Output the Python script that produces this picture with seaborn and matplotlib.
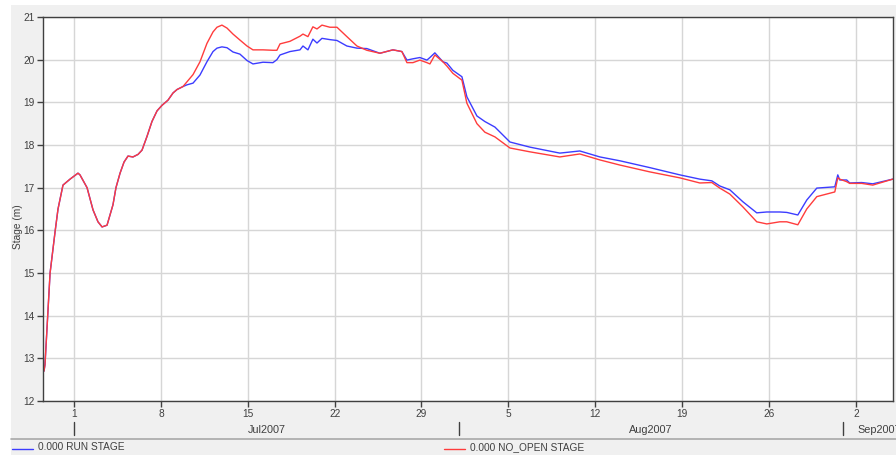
import pandas as pd
import matplotlib
matplotlib.use("Agg")
import matplotlib.pyplot as plt
import matplotlib.dates as mdates
from matplotlib.lines import Line2D
from matplotlib.patches import Rectangle
import seaborn as sns

# ------------------------------------------------------------
# data (days counted from 2007-07-01 00:00, stage in metres)
# ------------------------------------------------------------
start = pd.Timestamp("2007-07-01")

# first part: both runs give the same stage
shared_days = [-2.42, -2.34, -1.93, -1.53, -1.29, -0.89, -0.32, 0.32, 0.48, 1.05,
               1.53, 1.93, 2.26, 2.66, 3.14, 3.38, 3.71, 4.03, 4.35, 4.75,
               5.16, 5.48, 5.88, 6.28, 6.69, 7.09, 7.57, 7.98, 8.30, 8.78]
shared_stage = [12.70, 12.85, 15.00, 15.96, 16.50, 17.06, 17.20, 17.34, 17.30, 17.00,
                16.48, 16.20, 16.08, 16.12, 16.60, 17.00, 17.34, 17.60, 17.74, 17.72,
                17.78, 17.88, 18.20, 18.55, 18.80, 18.93, 19.05, 19.22, 19.30, 19.37]

# after that the two runs split
split_days = [9.10, 9.59, 10.15, 10.71, 11.20, 11.52, 11.92, 12.33, 12.81, 13.37,
              13.94, 14.42, 15.23, 16.03, 16.35, 16.60, 17.40, 18.21, 18.45, 18.85,
              19.25, 19.58, 19.98, 20.62, 21.19, 21.99, 22.80, 23.60, 24.65, 25.70,
              26.42, 26.83, 27.31, 27.87, 28.44, 28.68, 29.08, 29.73, 30.05, 30.53,
              31.26, 31.66, 32.47, 33.11, 33.92, 35.13, 36.74, 39.15, 40.76, 42.38,
              43.99, 46.40, 48.82, 50.43, 51.40, 52.04, 52.85, 53.90, 55.02, 55.83,
              56.88, 57.44, 58.33, 59.05, 59.86, 61.31, 61.55, 61.71, 62.27, 62.51,
              63.48, 64.37, 65.98]
run_split = [19.41, 19.45, 19.64, 19.95, 20.19, 20.27, 20.30, 20.28, 20.18, 20.13,
             19.98, 19.90, 19.94, 19.93, 20.00, 20.11, 20.19, 20.23, 20.32, 20.23,
             20.48, 20.39, 20.50, 20.47, 20.45, 20.32, 20.27, 20.26, 20.15, 20.23,
             20.19, 19.99, 20.02, 20.05, 19.99, 20.05, 20.16, 19.95, 19.92, 19.75,
             19.60, 19.13, 18.68, 18.55, 18.42, 18.07, 17.95, 17.81, 17.86, 17.72,
             17.63, 17.47, 17.30, 17.20, 17.16, 17.04, 16.95, 16.67, 16.41, 16.43,
             16.43, 16.42, 16.36, 16.71, 16.99, 17.02, 17.30, 17.18, 17.18, 17.11,
             17.12, 17.09, 17.20]
no_open_split = [19.48, 19.65, 19.95, 20.38, 20.65, 20.76, 20.81, 20.74, 20.60, 20.46,
                 20.32, 20.23, 20.23, 20.22, 20.22, 20.37, 20.43, 20.55, 20.60, 20.54,
                 20.77, 20.72, 20.81, 20.76, 20.76, 20.54, 20.32, 20.22, 20.15, 20.23,
                 20.19, 19.93, 19.93, 19.99, 19.93, 19.90, 20.11, 19.95, 19.85, 19.68,
                 19.52, 18.98, 18.50, 18.30, 18.19, 17.93, 17.84, 17.72, 17.79, 17.65,
                 17.53, 17.37, 17.23, 17.11, 17.12, 16.99, 16.85, 16.55, 16.20, 16.15,
                 16.20, 16.20, 16.13, 16.50, 16.79, 16.90, 17.23, 17.20, 17.14, 17.10,
                 17.10, 17.06, 17.20]

series_names = ["0.000 RUN STAGE", "0.000 NO_OPEN STAGE"]
series_colors = ["#3c3cff", "#ff3c3c"]
months = ["Jul2007", "Aug2007", "Sep2007"]

days = shared_days + split_days
time = start + pd.to_timedelta(days, unit="D")
df = pd.concat([
    pd.DataFrame({"time": time, "stage": shared_stage + run_split, "series": series_names[0]}),
    pd.DataFrame({"time": time, "stage": shared_stage + no_open_split, "series": series_names[1]}),
], ignore_index=True)

# ------------------------------------------------------------
# figure
# ------------------------------------------------------------
sns.set_theme(style="white")
plt.rcParams["font.family"] = ["Liberation Sans", "DejaVu Sans"]
txt_col = "#404040"
fs = 7.3

W, H = 896, 455
fig = plt.figure(figsize=(W / 100, H / 100), dpi=100, facecolor="white")
fig.patches.append(Rectangle((11 / W, 0), 1, (H - 5) / H, transform=fig.transFigure,
                             facecolor="#f0f0f0", edgecolor="none", zorder=-5))
ax = fig.add_axes([43 / W, 1 - 401 / H, 850 / W, 384 / H])
ax.set_facecolor("white")

sns.lineplot(data=df, x="time", y="stage", hue="series",
             palette=dict(zip(series_names, series_colors)),
             estimator=None, sort=False, linewidth=1.0, legend=False, ax=ax)

ax.set_xlim(start - pd.Timedelta(days=2.5), start + pd.Timedelta(days=66))
ax.set_ylim(12, 21)
ax.set_yticks(range(12, 22))
ax.xaxis.set_major_locator(mdates.WeekdayLocator(byweekday=mdates.SU))
ax.xaxis.set_major_formatter(plt.FuncFormatter(lambda v, p: str(mdates.num2date(v).day)))
ax.set_xlabel("")
ax.set_ylabel("")

ax.grid(True, color="#d6d6d6", linewidth=1.0)
for s in ax.spines.values():
    s.set_color(txt_col)
    s.set_linewidth(1.0)
ax.tick_params(axis="both", which="major", bottom=True, left=True, direction="out",
               length=4, width=1, color=txt_col, labelsize=fs, labelcolor=txt_col, pad=2)

# month row under the day labels
xt = ax.get_xaxis_transform()
month_starts = pd.date_range("2007-07-01", periods=4, freq="MS")
for i, m in enumerate(months):
    m0 = month_starts[i]
    ax.plot([m0, m0], [-0.055, -0.089], color=txt_col, lw=1, transform=xt, clip_on=False)
    if i < 2:
        mid = m0 + (month_starts[i + 1] - m0) / 2
        ax.text(mid, -0.075, m, transform=xt, ha="center", va="center",
                fontsize=7.8, color=txt_col)
    else:
        # last month only partly visible, label runs off the right edge
        ax.text(m0 + pd.Timedelta(days=1.1), -0.075, m, transform=xt, ha="left",
                va="center", fontsize=7.8, color=txt_col)

fig.text(18 / W, 1 - 227 / H, "Stage (m)", rotation=90, ha="center", va="center",
         fontsize=fs, color=txt_col)

# legend strip at the bottom
fig.add_artist(Line2D([11 / W, 1], [1 - 439 / H] * 2, color="#a8a8a8", lw=1.2,
                      transform=fig.transFigure))
leg_x = [12, 444]
for name, col, x0 in zip(series_names, series_colors, leg_x):
    yy = 1 - 448.5 / H
    fig.add_artist(Line2D([x0 / W, (x0 + 21) / W], [yy, yy], color=col, lw=1.0,
                          transform=fig.transFigure))
    fig.text((x0 + 26) / W, yy + 1 / H, name, ha="left", va="center", fontsize=fs,
             color=txt_col)

fig.savefig("out.png", dpi=100)
